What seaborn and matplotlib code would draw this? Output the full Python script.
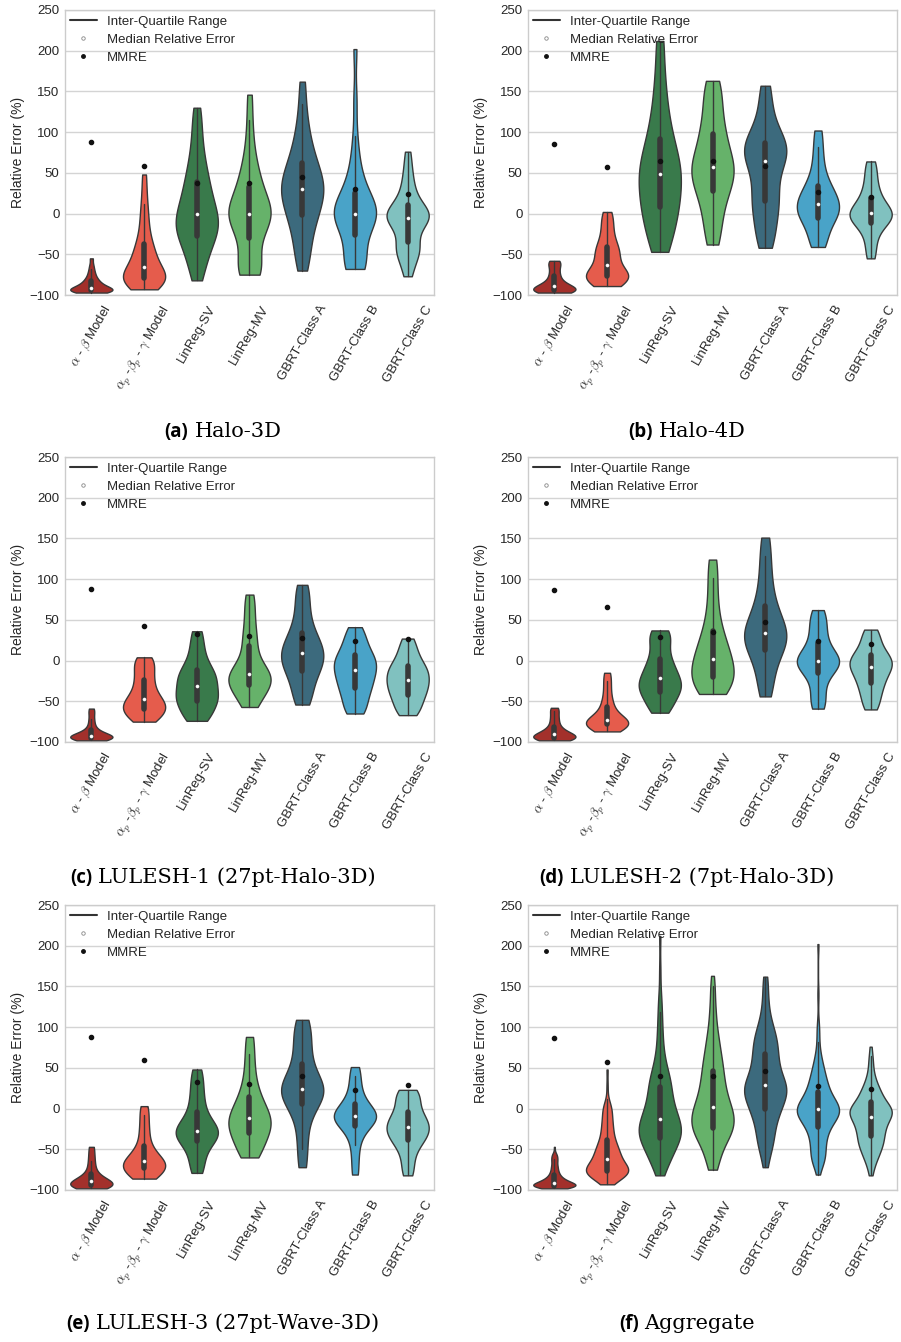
import numpy as np
import pandas as pd
import matplotlib
matplotlib.use("Agg")
import matplotlib.pyplot as plt
import seaborn as sns
from matplotlib.lines import Line2D

# Models, in plotting order, with their tick labels and fill colours
model_labels = [
    r"$\alpha$ - $\beta$ Model",
    r"$\alpha_p$ -$\beta_p$ - $\gamma$ Model",
    "LinReg-SV",
    "LinReg-MV",
    "GBRT-Class A",
    "GBRT-Class B",
    "GBRT-Class C",
]
model_colors = ["#a3302b", "#e55c4c", "#397a4b", "#66b26a", "#3c6a7d", "#49a3c8", "#80c1bf"]

# Relative prediction errors (%) per benchmark, one list per model
halo3d = [
    [-97, -96.5, -96, -96, -95.5, -95, -95, -94.5, -94, -94, -93.5, -93, -92.5, -92, -91, -91,
     -90, -89, -88, -87, -86, -85, -83, -82, -80, -78, -75, -72, -68, -63, -55],
    [-93, -91, -89, -87, -85, -83, -81, -80, -79, -78, -77, -76, -74, -72, -69, -65,
     -62, -59, -56, -52, -48, -44, -40, -35, -28, -20, -10, 0, 12, 28, 48],
    [-82, -70, -60, -52, -45, -38, -33, -29, -25, -21, -17, -14, -11, -8, -5, 0,
     4, 8, 13, 18, 24, 30, 36, 42, 50, 58, 68, 80, 95, 112, 130],
    [-75, -74, -72, -69, -64, -55, -44, -33, -27, -21, -15, -10, -6, -3, -1, 0,
     2, 5, 9, 13, 18, 24, 30, 36, 42, 50, 60, 72, 90, 115, 146],
    [-70, -58, -46, -36, -27, -18, -10, -4, 0, 5, 10, 15, 20, 24, 27, 30,
     33, 37, 41, 45, 50, 55, 60, 65, 72, 80, 90, 100, 115, 135, 162],
    [-68, -67, -65, -62, -58, -52, -44, -30, -22, -16, -11, -7, -4, -2, -1, 0,
     1, 3, 5, 8, 12, 17, 22, 28, 35, 44, 55, 70, 95, 140, 202],
    [-77, -68, -58, -52, -48, -45, -42, -38, -33, -26, -20, -15, -11, -9, -7, -6,
     -4, -2, 0, 1, 3, 5, 8, 12, 17, 23, 30, 38, 48, 60, 76],
]
halo4d = [
    [-97, -96, -96, -95, -95, -94, -93, -92, -91, -90, -89, -87, -85, -82, -78, -74, -69, -64, -60, -58],
    [-89, -86, -83, -80, -78, -77, -76, -74, -71, -67, -60, -55, -50, -46, -42, -36, -28, -18, -8, 2],
    [-47, -33, -20, -8, 2, 10, 18, 27, 36, 45, 52, 58, 65, 75, 88, 100, 118, 140, 170, 212],
    [-38, -20, -5, 10, 22, 30, 38, 45, 51, 55, 60, 66, 75, 85, 95, 105, 118, 135, 150, 163],
    [-42, -28, -15, -2, 10, 18, 24, 38, 52, 60, 68, 74, 78, 82, 86, 90, 100, 115, 135, 157],
    [-41, -35, -25, -15, -8, -4, 0, 3, 6, 10, 14, 18, 22, 27, 32, 40, 50, 65, 82, 102],
    [-55, -42, -30, -20, -14, -10, -7, -4, -2, 0, 1, 4, 8, 12, 18, 24, 32, 42, 53, 64],
]
lulesh1 = [
    [-98, -97, -96, -96, -95, -95, -94, -94, -93, -93, -92, -91, -90, -88, -86, -83, -78, -72, -65, -59],
    [-75, -72, -68, -65, -62, -59, -57, -55, -52, -49, -46, -42, -37, -31, -25, -19, -12, -6, 0, 4],
    [-74, -70, -64, -58, -53, -49, -46, -43, -39, -34, -29, -25, -21, -17, -13, -8, 0, 10, 22, 36],
    [-57, -50, -43, -37, -32, -29, -26, -23, -20, -18, -16, -12, -6, 2, 15, 25, 35, 50, 66, 81],
    [-54, -45, -35, -25, -17, -11, -6, -2, 3, 7, 11, 15, 20, 26, 32, 40, 52, 65, 80, 93],
    [-65, -60, -52, -44, -38, -33, -28, -23, -18, -14, -10, -6, -2, 2, 5, 10, 17, 24, 32, 41],
    [-67, -62, -56, -50, -45, -41, -37, -33, -29, -26, -22, -19, -15, -11, -8, -4, 2, 9, 17, 27],
]
lulesh2 = [
    [-98, -97, -96, -96, -95, -95, -94, -93, -92, -91, -90, -89, -87, -85, -82, -78, -73, -68, -62, -58],
    [-87, -85, -83, -81, -80, -78, -77, -76, -75, -74, -72, -70, -67, -63, -58, -52, -45, -35, -25, -15],
    [-64, -58, -52, -46, -41, -37, -34, -31, -28, -24, -20, -16, -11, -5, 0, 8, 18, 27, 33, 37],
    [-41, -38, -33, -28, -23, -19, -15, -10, -5, 0, 5, 11, 18, 25, 33, 45, 60, 80, 102, 124],
    [-44, -30, -15, -3, 8, 14, 20, 25, 29, 32, 36, 41, 48, 56, 64, 75, 90, 108, 128, 151],
    [-59, -52, -42, -30, -20, -13, -8, -5, -3, -1, 0, 3, 7, 12, 19, 27, 36, 45, 54, 62],
    [-60, -52, -44, -37, -31, -26, -21, -16, -12, -9, -6, -3, 0, 3, 6, 10, 16, 23, 31, 38],
]
lulesh3 = [
    [-98, -97, -96, -96, -95, -94, -93, -92, -91, -90, -89, -88, -86, -84, -81, -77, -71, -64, -56, -47],
    [-86, -84, -81, -78, -75, -73, -71, -69, -67, -66, -64, -61, -57, -53, -48, -40, -30, -20, -8, 3],
    [-79, -70, -60, -50, -43, -38, -35, -32, -30, -28, -26, -23, -19, -13, -6, 3, 13, 24, 36, 48],
    [-60, -54, -47, -40, -34, -29, -25, -21, -17, -14, -10, -6, -1, 5, 12, 20, 32, 48, 67, 88],
    [-72, -50, -30, -12, 0, 7, 13, 18, 21, 23, 25, 29, 34, 42, 52, 63, 75, 88, 99, 109],
    [-81, -62, -45, -33, -25, -20, -16, -13, -11, -10, -9, -7, -4, 0, 4, 10, 18, 28, 40, 51],
    [-82, -70, -58, -48, -42, -38, -34, -30, -27, -24, -21, -18, -14, -10, -6, 0, 8, 14, 19, 23],
]
# The aggregate pools every benchmark's errors per model
aggregate = [sum(group, []) for group in zip(halo3d, halo4d, lulesh1, lulesh2, lulesh3)]

# Mean magnitude of relative error (%) per model
mmre_halo3d = [88, 58, 37, 37, 45, 30, 24]
mmre_halo4d = [85, 57, 64, 65, 59, 26, 20]
mmre_lulesh1 = [88, 42, 33, 30, 28, 24, 27]
mmre_lulesh2 = [87, 66, 29, 35, 47, 24, 20]
mmre_lulesh3 = [88, 60, 33, 30, 40, 23, 29]
mmre_aggregate = [87, 57, 40, 40, 46, 28, 24]

panel_tags = ["(a)", "(b)", "(c)", "(d)", "(e)", "(f)"]
panel_names = ["Halo-3D", "Halo-4D", "LULESH-1 (27pt-Halo-3D)",
               "LULESH-2 (7pt-Halo-3D)", "LULESH-3 (27pt-Wave-3D)", "Aggregate"]
panel_data = [halo3d, halo4d, lulesh1, lulesh2, lulesh3, aggregate]
panel_mmre = [mmre_halo3d, mmre_halo4d, mmre_lulesh1, mmre_lulesh2, mmre_lulesh3, mmre_aggregate]
y_ticks = [-100, -50, 0, 50, 100, 150, 200, 250]

sns.set_theme(style="whitegrid", rc={
    "axes.edgecolor": "#cccccc",
    "grid.color": "#d4d4d4",
    "axes.linewidth": 1.0,
    "text.color": "#262626",
    "xtick.color": "#262626",
    "ytick.color": "#262626",
    "axes.labelcolor": "#262626",
})
plt.rcParams["font.family"] = ["Liberation Sans", "DejaVu Sans"]
plt.rcParams["mathtext.fontset"] = "cm"

W, H = 901, 1342
fig = plt.figure(figsize=(W / 100, H / 100), dpi=100)

col_left = [65, 528]
ax_w = 369
row_top = [10, 457, 905]
ax_h = 285
caption_cx = [223, 687]
caption_base = [437, 883, 1329]

renderer = fig.canvas.get_renderer()

for i in range(6):
    r, c = divmod(i, 2)
    ax = fig.add_axes([col_left[c] / W, 1 - (row_top[r] + ax_h) / H, ax_w / W, ax_h / H])

    df = pd.DataFrame({
        "model": np.concatenate([[lab] * len(v) for lab, v in zip(model_labels, panel_data[i])]),
        "err": np.concatenate([np.asarray(v, float) for v in panel_data[i]]),
    })
    sns.violinplot(
        data=df, x="model", y="err", hue="model", order=model_labels, hue_order=model_labels,
        palette=model_colors, saturation=1, legend=False, cut=0, density_norm="width",
        bw_adjust=0.7, width=0.8, linewidth=1, linecolor="#383838", inner="box",
        inner_kws=dict(box_width=4, whis_width=1, marker="o", markersize=2.2, markeredgewidth=0.4),
        ax=ax,
    )
    ax.plot(np.arange(len(model_labels)), panel_mmre[i], "o", color="#111111", ms=3, zorder=6)

    ax.set_xlim(-0.5, 6.5)
    ax.set_ylim(-100, 250)
    ax.set_yticks(y_ticks)
    ax.grid(axis="x", visible=False)
    ax.grid(axis="y", color="#d4d4d4", lw=1)
    for s in ax.spines.values():
        s.set_visible(True)
        s.set_color("#cccccc")
    ax.set_xlabel("")
    ax.set_ylabel("Relative Error (%)", fontsize=10)
    ax.yaxis.set_label_coords(-0.108, 0.5)
    ax.tick_params(axis="y", labelsize=9.5, pad=4, length=0)
    ax.tick_params(axis="x", labelsize=9.5, pad=3, length=3, direction="out", color="#cccccc")
    plt.setp(ax.get_xticklabels(), rotation=60, ha="center")

    handles = [
        Line2D([], [], color="#333333", lw=1.5),
        Line2D([], [], ls="", marker="o", ms=2.5, mfc="white", mec="#888888", mew=0.6),
        Line2D([], [], ls="", marker="o", ms=2.5, color="#111111"),
    ]
    ax.legend(handles, ["Inter-Quartile Range", "Median Relative Error", "MMRE"],
              loc="upper left", frameon=False, fontsize=9.5, borderaxespad=0.2,
              borderpad=0.2, labelspacing=0.45, handlelength=2.0, handletextpad=0.8)

    # Caption: bold tag followed by the serif benchmark name, centred under the panel
    yb = 1 - caption_base[r] / H
    t1 = fig.text(0, yb, panel_tags[i], fontfamily="Open Sans", fontweight="bold",
                  fontsize=13.5, va="baseline", color="black")
    t2 = fig.text(0, yb, panel_names[i], fontfamily="DejaVu Serif", fontsize=15,
                  va="baseline", color="black")
    w1 = t1.get_window_extent(renderer).width
    w2 = t2.get_window_extent(renderer).width
    gap = 6
    x0 = caption_cx[c] - (w1 + gap + w2) / 2
    t1.set_x(x0 / W)
    t2.set_x((x0 + w1 + gap) / W)

fig.savefig("out.png", dpi=100)
